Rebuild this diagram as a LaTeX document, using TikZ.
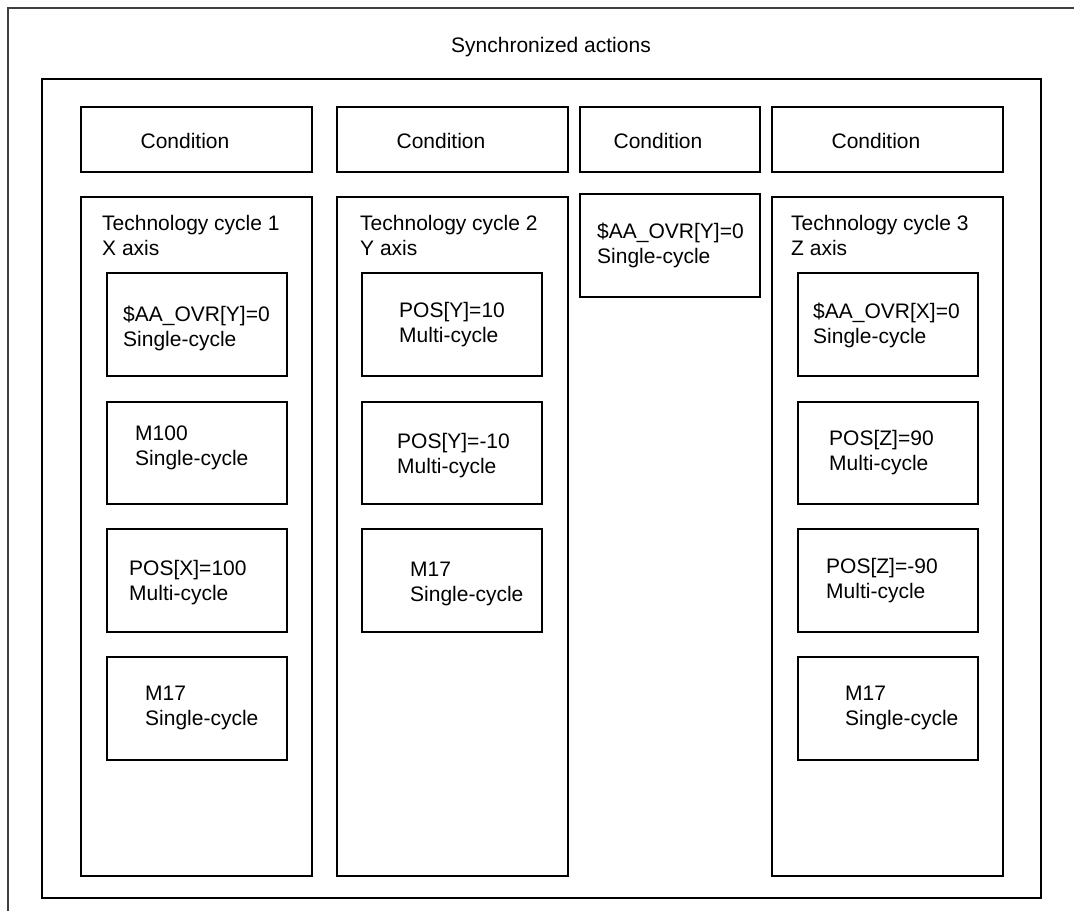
\documentclass[tikz,border=0pt]{standalone}
\usepackage{fontspec}
\setmainfont{Liberation Sans}
\usetikzlibrary{fit}
\tikzset{
  every node/.style={font=\fontsize{21}{25}\selectfont},
  frame/.style={draw=black, line width=1.5pt, inner sep=0pt},
  box/.style={draw=black, line width=1.3pt, inner sep=0pt},
  txt/.style={anchor=west, align=left, inner sep=0pt},
  ctr/.style={anchor=center, inner sep=0pt},
}
\begin{document}
\begin{tikzpicture}[x=1pt,y=-1pt]
\useasboundingbox (0,0) rectangle (1074,911);

% open outer frame with title
\draw[black!75, line width=1.1pt] (8,911) -- (8,8) -- (1074,8);
\node[ctr] (title) at (551,47) {Synchronized actions};

% inner frame
\node[frame, fit={(42,79)(1041,898)}] (inner) {};

% condition row
\node[box, fit={(81,107)(312,172)}]  (cond1) {};
\node[box, fit={(337,107)(568,172)}] (cond2) {};
\node[box, fit={(580,107)(760,172)}] (cond3) {};
\node[box, fit={(772,107)(1003,172)}] (cond4) {};
\node[ctr] (cond1t) at (185,141) {Condition};
\node[ctr] (cond2t) at (441,141) {Condition};
\node[ctr] (cond3t) at (658,141) {Condition};
\node[ctr] (cond4t) at (876,141) {Condition};

% technology cycle columns
\node[frame, fit={(81,197)(312,876)}]   (tc1) {};
\node[frame, fit={(337,197)(568,876)}]  (tc2) {};
\node[frame, fit={(772,197)(1003,876)}] (tc3) {};
\node[txt] (tc1t) at (102,235) {Technology cycle 1\\X axis};
\node[txt] (tc2t) at (360,235) {Technology cycle 2\\Y axis};
\node[txt] (tc3t) at (791,235) {Technology cycle 3\\Z axis};

% single action under the third condition
\node[frame, fit={(580,194)(760,297)}] (mid) {};
\node[txt] (midt) at (597,245) {\$AA\_OVR[Y]=0\\Single-cycle};

% column 1 actions
\node[box, fit={(107,273)(287,376)}] (a11) {};
\node[box, fit={(107,402)(287,504)}] (a12) {};
\node[box, fit={(107,529)(287,632)}] (a13) {};
\node[box, fit={(107,657)(287,760)}] (a14) {};
\node[txt] (a11t) at (123,328) {\$AA\_OVR[Y]=0\\Single-cycle};
\node[txt] (a12t) at (135,448) {M100\\Single-cycle};
\node[txt] (a13t) at (129,583) {POS[X]=100\\Multi-cycle};
\node[txt] (a14t) at (145,708) {M17\\Single-cycle};

% column 2 actions
\node[box, fit={(362,273)(542,376)}] (a21) {};
\node[box, fit={(362,402)(542,504)}] (a22) {};
\node[box, fit={(362,529)(542,632)}] (a23) {};
\node[txt] (a21t) at (399,325) {POS[Y]=10\\Multi-cycle};
\node[txt] (a22t) at (397,456) {POS[Y]=-10\\Multi-cycle};
\node[txt] (a23t) at (410,584) {M17\\Single-cycle};

% column 3 actions
\node[box, fit={(798,273)(978,376)}] (a31) {};
\node[box, fit={(798,402)(978,504)}] (a32) {};
\node[box, fit={(798,529)(978,632)}] (a33) {};
\node[box, fit={(798,657)(978,760)}] (a34) {};
\node[txt] (a31t) at (813,325) {\$AA\_OVR[X]=0\\Single-cycle};
\node[txt] (a32t) at (829,453) {POS[Z]=90\\Multi-cycle};
\node[txt] (a33t) at (826,581) {POS[Z]=-90\\Multi-cycle};
\node[txt] (a34t) at (845,708) {M17\\Single-cycle};
\end{tikzpicture}
\end{document}
